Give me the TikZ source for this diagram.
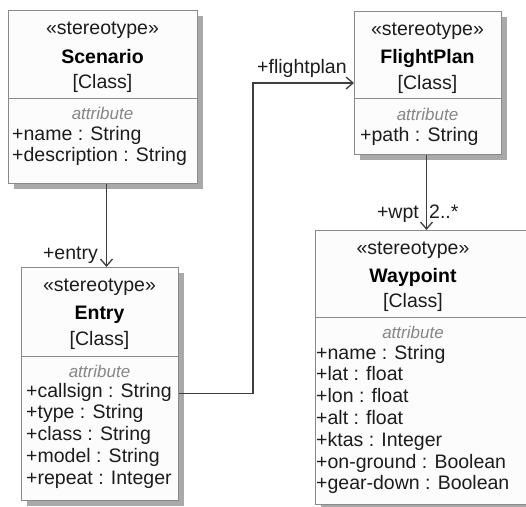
\documentclass[tikz,border=0pt]{standalone}
\usepackage{fontspec}
\setmainfont{Liberation Sans}
\usetikzlibrary{arrows.meta,shadows}
\definecolor{boxline}{HTML}{8A8A8A}
\definecolor{boxfill}{HTML}{FCFCFC}
\definecolor{shade}{HTML}{A9A9A9}
\definecolor{txt}{HTML}{1C1C1C}
\definecolor{attrgray}{HTML}{868686}
\definecolor{conncol}{HTML}{3E3E3E}
\begin{document}
\begin{tikzpicture}[x=1pt,y=-1pt,
  umlbox/.style={draw=boxline, fill=boxfill, line width=1pt, rectangle, anchor=north west, inner sep=0pt,
    drop shadow={shadow xshift=5pt, shadow yshift=-5pt, fill=shade, opacity=1}},
  sepline/.style={draw=boxline, line width=1pt},
  tx/.style={font=\fontsize{19.5}{22}\selectfont, text=txt, inner sep=0pt},
  hd/.style={tx, anchor=base},
  ttl/.style={anchor=base, inner sep=0pt, font=\fontsize{19.5}{22}\selectfont\bfseries, text=black},
  atth/.style={anchor=base, inner sep=0pt, font=\fontsize{17}{20}\selectfont\itshape, text=attrgray},
  att/.style={tx, anchor=base west},
  conn/.style={draw=conncol, line width=1.3pt, -{Straight Barb[length=7pt,width=12pt,line width=1.3pt]}},
  lbl/.style={tx}
]
\useasboundingbox (0,0) rectangle (526,506);

% ---------- Scenario ----------
\node[umlbox, minimum width=189pt, minimum height=173pt] (scen) at (8,10) {};
\draw[sepline] (8,98) -- (197,98);
\node[hd]  (scenS) at (102.5,34) {«stereotype»};
\node[ttl] (scenT) at (102.5,63) {Scenario};
\node[hd]  (scenC) at (102.5,88) {[Class]};
\node[atth] (scenA) at (102.5,119) {attribute};
\node[att] (scen1) at (12,140) {+name : String};
\node[att] (scen2) at (12,161.8) {+description : String};

% ---------- Entry ----------
\node[umlbox, minimum width=157pt, minimum height=233pt] (entry) at (21,267) {};
\draw[sepline] (21,356) -- (178,356);
\node[hd]  (entS) at (99.5,291) {«stereotype»};
\node[ttl] (entT) at (99.5,319) {Entry};
\node[hd]  (entC) at (99.5,345) {[Class]};
\node[atth] (entA) at (99.5,377) {attribute};
\node[att] (ent1) at (26,397) {+callsign : String};
\node[att] (ent2) at (26,418.8) {+type : String};
\node[att] (ent3) at (26,440.6) {+class : String};
\node[att] (ent4) at (26,462.4) {+model : String};
\node[att] (ent5) at (26,484.2) {+repeat : Integer};

% ---------- FlightPlan ----------
\node[umlbox, minimum width=147pt, minimum height=143pt] (fp) at (354,11) {};
\draw[sepline] (354,98) -- (501,98);
\node[hd]  (fpS) at (427.5,35) {«stereotype»};
\node[ttl] (fpT) at (427.5,63) {FlightPlan};
\node[hd]  (fpC) at (427.5,89) {[Class]};
\node[atth] (fpA) at (427.5,120) {attribute};
\node[att] (fp1) at (360,141) {+path : String};

% ---------- Waypoint ----------
\node[umlbox, minimum width=215pt, minimum height=274pt] (wp) at (315,230) {};
\draw[sepline] (315,317) -- (530,317);
\node[hd]  (wpS) at (413,254) {«stereotype»};
\node[ttl] (wpT) at (413,282) {Waypoint};
\node[hd]  (wpC) at (413,307) {[Class]};
\node[atth] (wpA) at (413,338) {attribute};
\node[att] (wp1) at (316,359) {+name : String};
\node[att] (wp2) at (316,380.8) {+lat : float};
\node[att] (wp3) at (316,402.6) {+lon : float};
\node[att] (wp4) at (316,424.4) {+alt : float};
\node[att] (wp5) at (316,446.2) {+ktas : Integer};
\node[att] (wp6) at (316,468) {+on-ground : Boolean};
\node[att] (wp7) at (316,489.8) {+gear-down : Boolean};

% ---------- connectors ----------
\draw[conn] ([xshift=3.5pt]scen.south) -- ([xshift=6.5pt]entry.north);
\draw[conn] ([yshift=-9.5pt]entry.east) -- ++(74,0) |- (fp.west);
\draw[conn] ([xshift=-1.5pt]fp.south) -- ([xshift=-1.5pt]fp.south |- wp.north);

% ---------- labels ----------
\node[lbl, anchor=base east] (lEntry) at (98,259) {+entry};
\node[lbl, anchor=base west] (lFp) at (257,73) {+flightplan};
\node[lbl, anchor=base east] (lWpt) at (419,218) {+wpt};
\node[lbl, anchor=base west] (lMult) at (429,218) {2..*};
\end{tikzpicture}
\end{document}
